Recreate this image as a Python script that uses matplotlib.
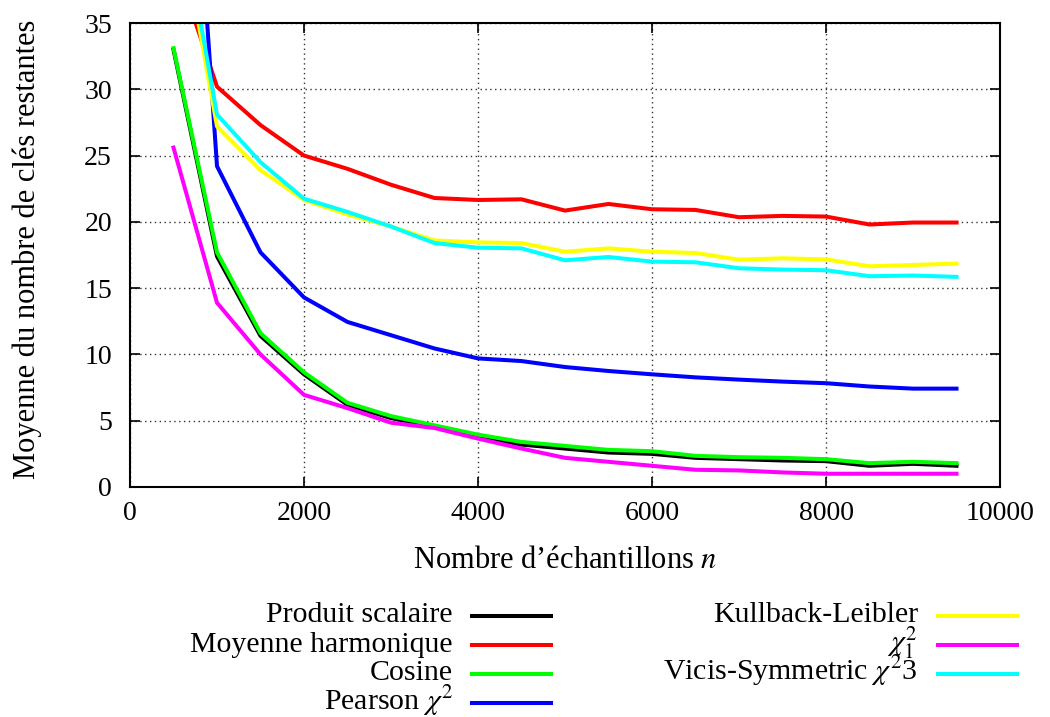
import matplotlib
matplotlib.use("Agg")
import matplotlib.pyplot as plt
from matplotlib.lines import Line2D

# sample counts
n_samples = [500, 1000, 1500, 2000, 2500, 3000, 3500, 4000, 4500, 5000,
             5500, 6000, 6500, 7000, 7500, 8000, 8500, 9000, 9500]

# mean number of remaining keys, one list per distance
produit = [33.0, 17.4, 11.4, 8.5, 6.2, 5.2, 4.55, 3.8, 3.2, 2.9,
           2.6, 2.5, 2.2, 2.1, 2.0, 1.95, 1.6, 1.75, 1.6]
harmonique = [40.0, 30.2, 27.3, 25.0, 24.0, 22.8, 21.8, 21.65, 21.7, 20.85,
              21.35, 20.95, 20.9, 20.35, 20.45, 20.4, 19.8, 19.95, 19.95]
cosine = [33.1, 17.7, 11.6, 8.65, 6.35, 5.35, 4.65, 3.95, 3.4, 3.1,
          2.8, 2.7, 2.35, 2.25, 2.2, 2.1, 1.8, 1.9, 1.8]
pearson = [72.0, 24.2, 17.7, 14.3, 12.45, 11.45, 10.45, 9.7, 9.5, 9.05,
           8.75, 8.5, 8.27, 8.1, 7.95, 7.83, 7.58, 7.42, 7.42]
kullback = [45.5, 27.2, 23.9, 21.65, 20.55, 19.65, 18.6, 18.45, 18.4, 17.75,
            18.0, 17.75, 17.65, 17.15, 17.25, 17.17, 16.65, 16.75, 16.85]
chi2_1 = [25.6, 13.9, 10.0, 6.95, 5.95, 4.85, 4.45, 3.65, 2.9, 2.2,
          1.9, 1.6, 1.3, 1.25, 1.1, 1.0, 1.0, 1.0, 1.0]
vicis = [46.5, 28.1, 24.5, 21.75, 20.75, 19.65, 18.4, 18.05, 18.0, 17.1,
         17.35, 17.0, 16.95, 16.5, 16.4, 16.35, 15.9, 15.95, 15.85]

series = [
    ("Produit scalaire", produit, "#000000"),
    ("Moyenne harmonique", harmonique, "#ff0000"),
    ("Cosine", cosine, "#00ff00"),
    (r"Pearson $\chi^2$", pearson, "#0000ff"),
    ("Kullback-Leibler", kullback, "#ffff00"),
    (r"$\chi^2_1$", chi2_1, "#ff00ff"),
    (r"Vicis-Symmetric $\chi^2$3", vicis, "#00ffff"),
]

plt.rcParams["font.family"] = ["Liberation Serif", "DejaVu Serif"]
plt.rcParams["mathtext.fontset"] = "stix"

W, H = 1050, 717
fig = plt.figure(figsize=(W / 100, H / 100), dpi=100)
ax = fig.add_axes([130 / W, 1 - 487 / H, 870 / W, 464 / H])

for label, vals, col in series:
    ax.plot(n_samples, vals, color=col, lw=2.9)

ax.set_xlim(0, 10000)
ax.set_ylim(0, 35)
ax.set_xticks([0, 2000, 4000, 6000, 8000, 10000])
ax.set_yticks([0, 5, 10, 15, 20, 25, 30, 35])
ax.grid(True, color="0.2", linestyle=(0, (1, 2.5)), lw=1.0)
ax.tick_params(direction="in", top=True, right=True, length=7, width=1.2,
               labelsize=20)
ax.tick_params(axis="x", pad=10)
ax.tick_params(axis="y", pad=13)
for sp in ax.spines.values():
    sp.set_linewidth(1.5)

ax.set_xlabel(r"Nombre d’échantillons $n$", fontsize=22, va="center")
ax.xaxis.set_label_coords(0.5, (487 - 560) / 464)
ax.set_ylabel("Moyenne du nombre de clés restantes", fontsize=22, va="center")
ax.yaxis.set_label_coords((27 - 130) / 870, (487 - 249) / 464)

# legend drawn by hand: text right-aligned, sample line after it
rows = [615.5, 644.5, 673.5, 702.5]
cols = [(453, 472, 551), (918, 938, 1017)]
for i, (label, vals, col) in enumerate(series):
    c = 0 if i < 4 else 1
    yl = rows[i if i < 4 else i - 4]
    xt, x0, x1 = cols[c]
    fig.text(xt / W, 1 - (yl + 7) / H, label, ha="right", va="baseline",
             fontsize=21.5)
    fig.add_artist(Line2D([x0 / W, x1 / W], [1 - yl / H, 1 - yl / H],
                          color=col, lw=2.9, transform=fig.transFigure))

fig.savefig("out.png", dpi=100)
